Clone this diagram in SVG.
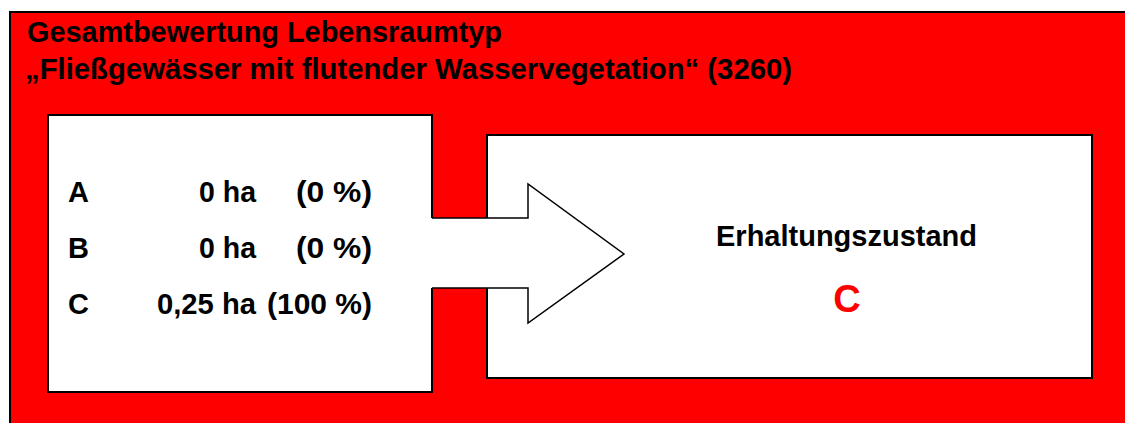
<svg xmlns="http://www.w3.org/2000/svg" width="1125" height="423" viewBox="0 0 1125 423">
  <style>
    .t { font-family: "Liberation Sans", Arial, sans-serif; font-weight: bold; font-size: 29px; fill: #000; }
    .box { fill: #fff; stroke: #000; stroke-width: 2; }
  </style>
  <rect width="1125" height="423" fill="#fff"/>
  <!-- red background panel -->
  <g id="panel">
    <rect x="10" y="12" width="1200" height="500" fill="#ff0000" stroke="#000" stroke-width="2"/>
    <text class="t" x="27" y="42" textLength="475" lengthAdjust="spacingAndGlyphs">Gesamtbewertung Lebensraumtyp</text>
    <text class="t" x="25" y="79" textLength="767" lengthAdjust="spacingAndGlyphs">„Fließgewässer mit flutender Wasservegetation“ (3260)</text>
  </g>
  <!-- area breakdown by grade -->
  <g id="areas">
    <rect class="box" x="48" y="115" width="384" height="277"/>
    <text class="t" x="68" y="202">A</text>
    <text class="t" x="199" y="202" textLength="57" lengthAdjust="spacingAndGlyphs">0 ha</text>
    <text class="t" x="296" y="202" textLength="76" lengthAdjust="spacingAndGlyphs">(0 %)</text>
    <text class="t" x="68" y="258">B</text>
    <text class="t" x="199" y="258" textLength="57" lengthAdjust="spacingAndGlyphs">0 ha</text>
    <text class="t" x="296" y="258" textLength="76" lengthAdjust="spacingAndGlyphs">(0 %)</text>
    <text class="t" x="68" y="314">C</text>
    <text class="t" x="157" y="314" textLength="99" lengthAdjust="spacingAndGlyphs">0,25 ha</text>
    <text class="t" x="267" y="314" textLength="105" lengthAdjust="spacingAndGlyphs">(100 %)</text>
  </g>
  <!-- overall conservation status -->
  <g id="status">
    <rect class="box" x="487" y="135" width="605" height="243"/>
    <text class="t" x="716" y="246" textLength="261" lengthAdjust="spacingAndGlyphs">Erhaltungszustand</text>
    <text x="847" y="312" text-anchor="middle" font-family="Liberation Sans, Arial, sans-serif" font-weight="bold" font-size="38" fill="#ff0000">C</text>
  </g>
  <!-- block arrow joining the two boxes -->
  <g id="connectors">
    <polygon points="425,218 528,218 528,184 624,254 528,323 528,288 425,288" fill="#fff" stroke="none"/>
    <polyline points="432,218 528,218 528,184 624,254 528,323 528,288 432,288" fill="none" stroke="#000" stroke-width="1.5"/>
  </g>
</svg>
